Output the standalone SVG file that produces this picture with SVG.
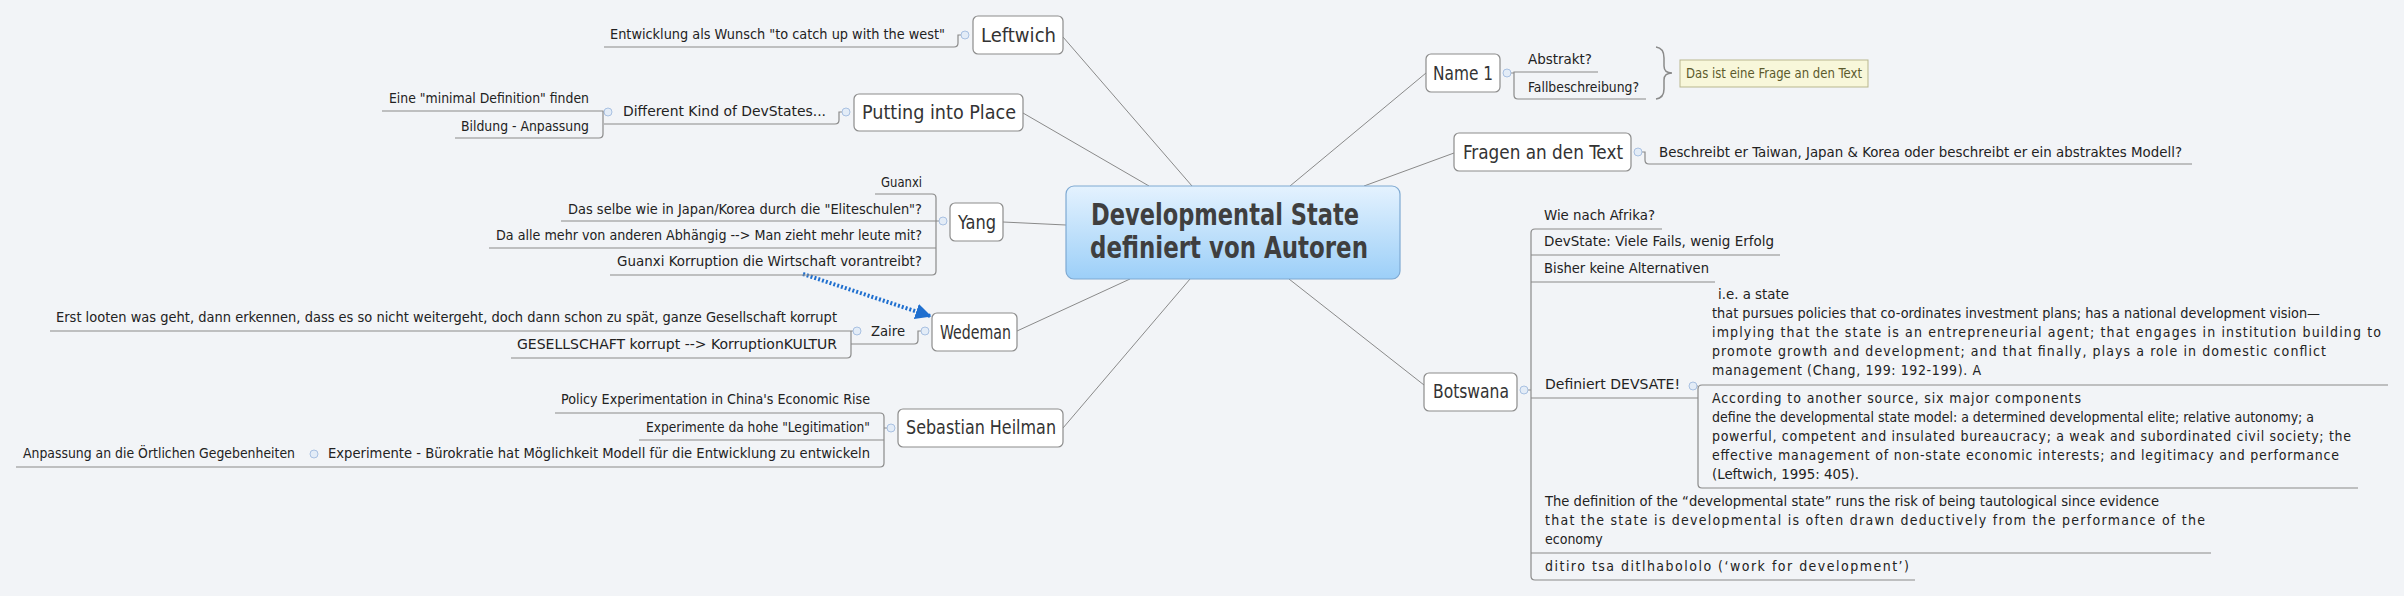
<svg xmlns="http://www.w3.org/2000/svg" width="2404" height="596" viewBox="0 0 2404 596">
<defs>
<linearGradient id="cg" x1="0" y1="0" x2="0" y2="1"><stop offset="0" stop-color="#e4f2fe"/><stop offset="1" stop-color="#9ccff8"/></linearGradient>
<marker id="ah" viewBox="0 0 10 10" refX="9" refY="5" markerWidth="4" markerHeight="4" orient="auto"><path d="M0,0 L10,5 L0,10 z" fill="#1f6fcf"/></marker>
<style>
text{font-family:"Liberation Sans Narrow","DejaVu Sans Condensed","Liberation Sans",sans-serif;fill:#222}
.t{font-size:14px}
.n{font-size:20px;fill:#333}
.c{font-size:30px;font-weight:bold;fill:#3f3f3f}
.box{fill:#fff;stroke:#8c8c8c;stroke-width:1.2}
.ln{fill:none;stroke:#8a8a8a;stroke-width:1.2}
.cn{fill:none;stroke:#8a8a8a;stroke-width:1}
.dot{fill:#e3ecf7;stroke:#a9c1e2;stroke-width:1}
</style>
</defs>
<rect width="2404" height="596" fill="#f2f4f7"/>
<g id="connectors">
<path class="cn" d="M1063,37 L1192,186 M1023,113 L1149,186 M1003,222 L1066,225 M1017,331 L1130,279 M1063,428 L1190,279 M1424,385 L1289,279 M1426,73 L1290,186 M1454,153 L1364,186"/>
<path d="M803,274 L930,316" stroke="#1f6fcf" stroke-width="4" stroke-dasharray="2,2" fill="none" marker-end="url(#ah)"/>
</g>
<g id="central">
<rect x="1066" y="186" width="334" height="93" rx="8" fill="url(#cg)" stroke="#7ea9d2" stroke-width="1.2"/>
<text class="c" x="1091" y="225" textLength="268" lengthAdjust="spacingAndGlyphs">Developmental State</text>
<text class="c" x="1090" y="258" textLength="278" lengthAdjust="spacingAndGlyphs">definiert von Autoren</text>
</g>
<g id="leftwich">
<rect class="box" x="973" y="16" width="90" height="38" rx="5"/>
<text class="n" x="981" y="42" textLength="75" lengthAdjust="spacingAndGlyphs">Leftwich</text>
<path class="ln" d="M604,47 L954,47 Q958,47 958,43 L958,35 L965,35"/><circle class="dot" cx="965" cy="35" r="4"/>
<text class="t" x="610" y="39" textLength="335" lengthAdjust="spacingAndGlyphs">Entwicklung als Wunsch "to catch up with the west"</text>
</g>
<g id="putting">
<rect class="box" x="854" y="94" width="169" height="37" rx="5"/>
<text class="n" x="862" y="119" textLength="154" lengthAdjust="spacingAndGlyphs">Putting into Place</text>
<path class="ln" d="M604,124 L835,124 Q839,124 839,120 L839,112 L846,112"/><circle class="dot" cx="846" cy="112" r="4"/>
<text class="t" x="623" y="116" textLength="203" lengthAdjust="spacingAndGlyphs">Different Kind of DevStates...</text>
<path class="ln" d="M382,111 L603,111 L603,134 Q603,138 599,138 L455,138 M603,112 L607,112"/><circle class="dot" cx="608" cy="112" r="4"/>
<text class="t" x="389" y="103" textLength="200" lengthAdjust="spacingAndGlyphs">Eine "minimal Definition" finden</text>
<text class="t" x="461" y="131" textLength="128" lengthAdjust="spacingAndGlyphs">Bildung - Anpassung</text>
</g>
<g id="yang">
<rect class="box" x="950" y="203" width="53" height="38" rx="5"/>
<text class="n" x="958" y="229" textLength="38" lengthAdjust="spacingAndGlyphs">Yang</text>
<path class="ln" d="M875,194 L932,194 Q936,194 936,198 L936,271 Q936,275 932,275 L610,275 M561,221 L943,221 M489,248 L936,248"/><circle class="dot" cx="943" cy="221" r="4"/>
<text class="t" x="881" y="187" textLength="41" lengthAdjust="spacingAndGlyphs">Guanxi</text>
<text class="t" x="568" y="214" textLength="354" lengthAdjust="spacingAndGlyphs">Das selbe wie in Japan/Korea durch die "Eliteschulen"?</text>
<text class="t" x="496" y="240" textLength="426" lengthAdjust="spacingAndGlyphs">Da alle mehr von anderen Abhängig --&gt; Man zieht mehr leute mit?</text>
<text class="t" x="617" y="266" textLength="305" lengthAdjust="spacingAndGlyphs">Guanxi Korruption die Wirtschaft vorantreibt?</text>
</g>
<g id="wedeman">
<rect class="box" x="932" y="313" width="85" height="38" rx="5"/>
<text class="n" x="940" y="339" textLength="71" lengthAdjust="spacingAndGlyphs">Wedeman</text>
<path class="ln" d="M851,344 L914,344 Q918,344 918,340 L918,331 L925,331"/><circle class="dot" cx="925" cy="331" r="4"/>
<text class="t" x="871" y="336" textLength="34" lengthAdjust="spacingAndGlyphs">Zaire</text>
<path class="ln" d="M50,331 L857,331 M851,331 L851,354 Q851,358 847,358 L511,358"/><circle class="dot" cx="857" cy="331" r="4"/>
<text class="t" x="56" y="322" textLength="781" lengthAdjust="spacingAndGlyphs">Erst looten was geht, dann erkennen, dass es so nicht weitergeht, doch dann schon zu spät, ganze Gesellschaft korrupt</text>
<text class="t" x="517" y="349" textLength="320" lengthAdjust="spacingAndGlyphs">GESELLSCHAFT korrupt --&gt; KorruptionKULTUR</text>
</g>
<g id="heilman">
<rect class="box" x="898" y="409" width="165" height="38" rx="5"/>
<text class="n" x="906" y="434" textLength="150" lengthAdjust="spacingAndGlyphs">Sebastian Heilman</text>
<path class="ln" d="M555,413 L880,413 Q884,413 884,417 L884,463 Q884,467 880,467 L16,467 M639,440 L884,440 M884,428 L891,428"/><circle class="dot" cx="891" cy="428" r="4"/><circle class="dot" cx="314" cy="454" r="4"/>
<text class="t" x="561" y="404" textLength="309" lengthAdjust="spacingAndGlyphs">Policy Experimentation in China's Economic Rise</text>
<text class="t" x="646" y="432" textLength="224" lengthAdjust="spacingAndGlyphs">Experimente da hohe "Legitimation"</text>
<text class="t" x="328" y="458" textLength="542" lengthAdjust="spacingAndGlyphs">Experimente - Bürokratie hat Möglichkeit Modell für die Entwicklung zu entwickeln</text>
<text class="t" x="23" y="458" textLength="272" lengthAdjust="spacingAndGlyphs">Anpassung an die Örtlichen Gegebenheiten</text>
</g>
<g id="name1">
<rect class="box" x="1426" y="54" width="74" height="38" rx="5"/>
<text class="n" x="1433" y="80" textLength="60" lengthAdjust="spacingAndGlyphs">Name 1</text>
<path class="ln" d="M1507,73 L1514,73 M1598,72 L1514,72 L1514,95 Q1514,99 1518,99 L1646,99"/><circle class="dot" cx="1507" cy="73" r="4"/>
<text class="t" x="1528" y="64" textLength="64" lengthAdjust="spacingAndGlyphs">Abstrakt?</text>
<text class="t" x="1528" y="92" textLength="111" lengthAdjust="spacingAndGlyphs">Fallbeschreibung?</text>
<path d="M1656,47 Q1664,48 1664,58 L1664,66 Q1664,73 1672,73 Q1664,73 1664,80 L1664,89 Q1664,98 1656,99" fill="none" stroke="#8a8a8a" stroke-width="1.5"/>
<rect x="1680" y="60" width="188" height="27" fill="#f8f7da" stroke="#b9b78f"/>
<text x="1686" y="78" style="font-size:14px;fill:#5c5a2c" textLength="176" lengthAdjust="spacingAndGlyphs">Das ist eine Frage an den Text</text>
</g>
<g id="fragen">
<rect class="box" x="1454" y="133" width="177" height="38" rx="5"/>
<text class="n" x="1463" y="159" textLength="160" lengthAdjust="spacingAndGlyphs">Fragen an den Text</text>
<path class="ln" d="M1638,152 L1645,152 L1645,160 Q1645,164 1649,164 L2192,164"/><circle class="dot" cx="1638" cy="152" r="4"/>
<text class="t" x="1659" y="157" textLength="523" lengthAdjust="spacingAndGlyphs">Beschreibt er Taiwan, Japan &amp; Korea oder beschreibt er ein abstraktes Modell?</text>
</g>
<g id="botswana">
<rect class="box" x="1424" y="373" width="93" height="38" rx="5"/>
<text class="n" x="1433" y="398" textLength="76" lengthAdjust="spacingAndGlyphs">Botswana</text>
<path class="ln" d="M1524,390 L1531,390 M1662,229 L1535,229 Q1531,229 1531,233 L1531,576 Q1531,580 1535,580 L1915,580 M1531,255 L1780,255 M1531,282 L1715,282 M1531,398 L1698,398 M1531,553 L2211,553 M2388,385 L1702,385 Q1698,385 1698,389 L1698,484 Q1698,488 1702,488 L2358,488 M1693,386 L1698,386"/>
<circle class="dot" cx="1524" cy="390" r="4"/><circle class="dot" cx="1693" cy="386" r="4"/>
<text class="t" x="1544" y="220" textLength="111" lengthAdjust="spacingAndGlyphs">Wie nach Afrika?</text>
<text class="t" x="1544" y="246" textLength="230" lengthAdjust="spacingAndGlyphs">DevState: Viele Fails, wenig Erfolg</text>
<text class="t" x="1544" y="273" textLength="165" lengthAdjust="spacingAndGlyphs">Bisher keine Alternativen</text>
<text class="t" x="1545" y="389" textLength="135" lengthAdjust="spacingAndGlyphs">Definiert DEVSATE!</text>
<text class="t" x="1718" y="299" textLength="71" lengthAdjust="spacingAndGlyphs">i.e. a state</text>
<text class="t" x="1712" y="318" textLength="608" lengthAdjust="spacingAndGlyphs">that pursues policies that co-ordinates investment plans; has a national development vision—</text>
<text class="t" x="1712" y="337" textLength="669" lengthAdjust="spacing">implying that the state is an entrepreneurial agent; that engages in institution building to</text>
<text class="t" x="1712" y="356" textLength="614" lengthAdjust="spacing">promote growth and development; and that finally, plays a role in domestic conflict</text>
<text class="t" x="1712" y="375" textLength="269" lengthAdjust="spacing">management (Chang, 199: 192-199). A</text>
<text class="t" x="1712" y="403" textLength="369" lengthAdjust="spacing">According to another source, six major components</text>
<text class="t" x="1712" y="422" textLength="602" lengthAdjust="spacingAndGlyphs">define the developmental state model: a determined developmental elite; relative autonomy; a</text>
<text class="t" x="1712" y="441" textLength="639" lengthAdjust="spacing">powerful, competent and insulated bureaucracy; a weak and subordinated civil society; the</text>
<text class="t" x="1712" y="460" textLength="627" lengthAdjust="spacing">effective management of non-state economic interests; and legitimacy and performance</text>
<text class="t" x="1712" y="479" textLength="147" lengthAdjust="spacingAndGlyphs">(Leftwich, 1995: 405).</text>
<text class="t" x="1545" y="506" textLength="614" lengthAdjust="spacingAndGlyphs">The definition of the “developmental state” runs the risk of being tautological since evidence</text>
<text class="t" x="1545" y="525" textLength="660" lengthAdjust="spacing">that the state is developmental is often drawn deductively from the performance of the</text>
<text class="t" x="1545" y="544">economy</text>
<text class="t" x="1545" y="571" textLength="364" lengthAdjust="spacing">ditiro tsa ditlhabololo (‘work for development’)</text>
</g>
</svg>
